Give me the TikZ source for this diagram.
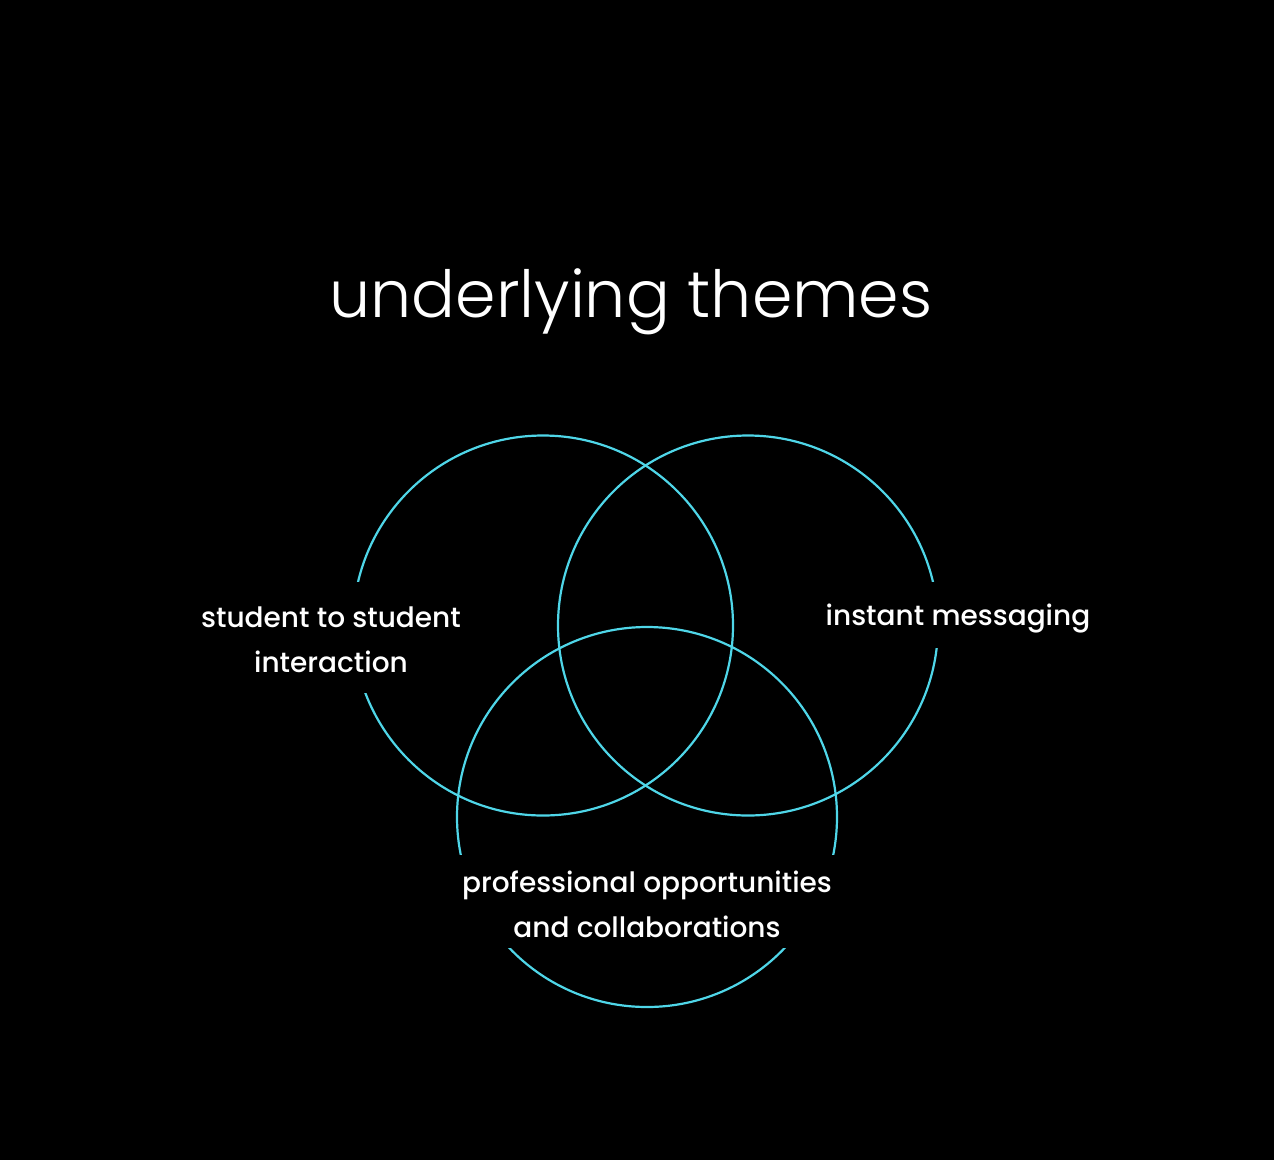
\documentclass[tikz,border=0pt]{standalone}
\usepackage{fontspec}
\setmainfont{Poppins Medium}
\newfontfamily\titlefont{Poppins Light}
\definecolor{ring}{HTML}{4FD6E8}
\begin{document}
\begin{tikzpicture}[x=1pt,y=-1pt,
  ringline/.style={draw=ring,line width=2.2pt},
  mask/.style={fill=black,inner sep=0pt},
  label/.style={text=white,align=center,inner sep=0pt,
    font=\fontsize{28}{45}\selectfont}]
  \fill[black] (0,0) rectangle (1274,1160);
  \useasboundingbox (0,0) rectangle (1274,1160);

  % title
  \node[text=white,font=\titlefont\fontsize{65}{70}\selectfont] (title) at (631,302) {underlying themes};

  % the three rings
  \coordinate (cA) at (543,625.5);
  \coordinate (cB) at (748,625.5);
  \coordinate (cC) at (647,817);
  \draw[ringline] (cA) circle (190);
  \draw[ringline] (cB) circle (190);
  \draw[ringline] (cC) circle (190);

  % black panels opening each ring where its label sits
  \node[mask,minimum width=300pt,minimum height=111pt] (mA) at (331,637.5) {};
  \node[mask,minimum width=280pt,minimum height=66pt] (mB) at (958,615) {};
  \node[mask,minimum width=388pt,minimum height=93pt] (mC) at (647,901.5) {};

  % labels
  \node[label] (lA) at (331,640) {student to student\\interaction};
  \node[label] (lB) at (958,619) {instant messaging};
  \node[label] (lC) at (647,904) {professional opportunities\\and collaborations};
\end{tikzpicture}
\end{document}
